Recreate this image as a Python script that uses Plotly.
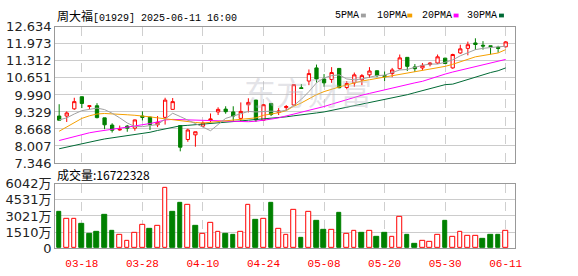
import plotly.graph_objects as go

W, H = 578, 276

dates = ["03-13", "03-14", "03-17", "03-18", "03-19", "03-20", "03-21", "03-24", "03-25", "03-26",
         "03-27", "03-28", "03-31", "04-01", "04-02", "04-03", "04-07", "04-08", "04-09", "04-10",
         "04-11", "04-14", "04-15", "04-16", "04-17", "04-22", "04-23", "04-24", "04-25", "04-28",
         "04-29", "04-30", "05-02", "05-06", "05-07", "05-08", "05-09", "05-12", "05-13", "05-14",
         "05-15", "05-16", "05-19", "05-20", "05-21", "05-22", "05-23", "05-26", "05-27", "05-28",
         "05-29", "05-30", "06-02", "06-03", "06-04", "06-05", "06-06", "06-09", "06-10", "06-11"]

label_dates = ["03-18", "03-28", "04-10", "04-24", "05-08", "05-20", "05-30", "06-11"]

open_ = [9.17, 9.17, 9.45, 9.92, 9.54, 9.57, 9.10, 8.82, 8.63, 8.78,
         8.70, 9.17, 9.13, 8.83, 9.12, 9.43, 8.80, 8.26, 8.44, 8.78,
         9.00, 9.33, 9.44, 9.33, 9.08, 9.61, 9.79, 9.01, 9.66, 9.31,
         9.50, 9.60, 10.27, 10.53, 11.04, 10.61, 10.59, 11.02, 10.28, 10.46,
         10.58, 10.77, 10.93, 10.74, 10.82, 11.01, 11.45, 11.08, 11.04, 11.17,
         11.23, 11.42, 11.04, 11.62, 11.80, 12.01, 11.92, 11.90, 11.84, 11.86]
high = [9.63, 9.35, 9.88, 9.93, 9.58, 9.67, 9.10, 8.89, 8.80, 8.82,
        9.03, 9.35, 9.14, 9.17, 9.88, 9.87, 8.81, 8.68, 8.56, 8.96,
        9.27, 9.51, 9.55, 9.55, 9.70, 9.86, 9.80, 9.63, 9.66, 9.48,
        9.60, 10.40, 10.41, 10.98, 11.17, 10.80, 11.07, 11.02, 10.53, 10.86,
        10.80, 11.07, 10.94, 10.90, 11.04, 11.56, 11.45, 11.19, 11.23, 11.26,
        11.56, 11.43, 11.59, 11.94, 12.06, 12.19, 12.08, 11.90, 11.90, 12.08]
low = [8.99, 8.94, 9.41, 9.48, 9.43, 9.08, 8.66, 8.53, 8.60, 8.56,
       8.60, 9.00, 8.63, 8.74, 8.84, 9.42, 7.80, 8.17, 7.98, 8.74,
       8.93, 9.21, 9.26, 8.96, 8.96, 9.31, 8.94, 9.00, 9.17, 9.21,
       9.39, 9.58, 10.23, 10.37, 10.47, 10.31, 10.46, 10.25, 10.21, 10.31,
       10.37, 10.65, 10.68, 10.53, 10.68, 10.98, 10.92, 10.88, 10.95, 11.10,
       11.19, 11.21, 11.01, 11.59, 11.53, 11.74, 11.75, 11.56, 11.63, 11.84]
close = [9.01, 9.29, 9.73, 9.66, 9.57, 9.11, 8.83, 8.62, 8.66, 8.70,
         9.02, 9.12, 8.84, 8.93, 9.79, 9.73, 7.96, 8.63, 8.56, 8.90,
         9.06, 9.43, 9.34, 9.17, 9.35, 9.70, 9.02, 9.61, 9.23, 9.37,
         9.54, 10.39, 10.24, 10.82, 10.61, 10.46, 10.86, 10.27, 10.43, 10.77,
         10.74, 10.92, 10.74, 10.70, 10.96, 11.43, 11.10, 11.01, 11.14, 11.23,
         11.47, 11.21, 11.56, 11.78, 11.94, 11.95, 11.89, 11.87, 11.80, 12.05]

ma5 = [9.02, 9.10, 9.25, 9.38, 9.43, 9.48, 9.42, 9.28, 9.10, 8.90,
       8.76, 8.76, 8.80, 8.84, 9.05, 9.28, 9.15, 9.02, 8.90, 8.74,
       8.60, 8.84, 9.08, 9.17, 9.27, 9.35, 9.33, 9.35, 9.36, 9.34,
       9.40, 9.58, 9.82, 10.12, 10.46, 10.65, 10.74, 10.77, 10.61, 10.58,
       10.61, 10.68, 10.74, 10.76, 10.86, 10.96, 10.98, 11.07, 11.14, 11.19,
       11.19, 11.26, 11.35, 11.51, 11.63, 11.75, 11.80, 11.84, 11.86, 11.88]
ma10 = [8.58, 8.75, 8.92, 9.08, 9.18, 9.25, 9.27, 9.26, 9.24, 9.22,
        9.20, 9.18, 9.14, 9.10, 9.06, 9.02, 8.98, 8.95, 8.92, 8.90,
        8.93, 8.96, 8.99, 9.02, 9.04, 9.06, 9.10, 9.20, 9.25, 9.30,
        9.38, 9.55, 9.68, 9.85, 10.00, 10.12, 10.22, 10.30, 10.38, 10.46,
        10.53, 10.58, 10.63, 10.68, 10.74, 10.80, 10.85, 10.90, 10.95, 11.00,
        11.05, 11.10, 11.18, 11.28, 11.38, 11.47, 11.52, 11.57, 11.62, 11.75]
ma20 = [8.22, 8.30, 8.38, 8.45, 8.52, 8.57, 8.62, 8.66, 8.70, 8.74,
        8.78, 8.83, 8.88, 8.94, 9.02, 9.04, 9.03, 9.02, 9.00, 8.98,
        8.97, 8.96, 8.95, 8.95, 8.95, 8.95, 8.97, 9.00, 9.05, 9.10,
        9.17, 9.25, 9.32, 9.40, 9.47, 9.54, 9.63, 9.72, 9.80, 9.89,
        9.98, 10.05, 10.12, 10.20, 10.28, 10.35, 10.40, 10.46, 10.52, 10.62,
        10.72, 10.80, 10.88, 10.95, 11.01, 11.07, 11.14, 11.22, 11.30, 11.37]
ma30 = [7.90, 7.97, 8.03, 8.09, 8.15, 8.22, 8.28, 8.32, 8.36, 8.40,
        8.44, 8.48, 8.54, 8.61, 8.68, 8.74, 8.79, 8.81, 8.83, 8.86,
        8.88, 8.90, 8.93, 8.95, 8.98, 9.01, 9.03, 9.06, 9.08, 9.11,
        9.14, 9.18, 9.21, 9.25, 9.29, 9.33, 9.39, 9.45, 9.51, 9.57,
        9.63, 9.69, 9.75, 9.80, 9.86, 9.92, 10.00, 10.08, 10.16, 10.24,
        10.34, 10.39, 10.41, 10.50, 10.60, 10.70, 10.78, 10.86, 10.93, 11.04]

# volume in 万 shares; 1 = up (red hollow), 0 = down (green filled)
volume = [3448, 2712, 2800, 2299, 1326, 1503, 3095, 1592, 1208, 678,
          1474, 2181, 1768, 2093, 5629, 3448, 4244, 4038, 2050, 1326,
          2358, 1562, 1326, 1238, 1562, 4038, 2653, 2712, 4244, 1827,
          1238, 3596, 973, 3389, 2564, 1680, 1709, 3331, 1326, 1650,
          1415, 1650, 1061, 1415, 1061, 2918, 1238, 442, 678, 589,
          1238, 2564, 1061, 1503, 1149, 1149, 884, 1238, 1238, 1672]
vol_up = [0, 1, 1, 0, 0, 0, 0, 0, 1, 1,
          1, 1, 0, 1, 1, 0, 0, 1, 0, 1,
          1, 1, 0, 0, 1, 1, 0, 1, 0, 1,
          1, 1, 0, 1, 0, 0, 1, 0, 1, 1,
          0, 1, 0, 0, 1, 1, 0, 0, 1, 1,
          1, 0, 1, 1, 1, 1, 0, 0, 0, 1]

price_ticks = [7.346, 8.007, 8.668, 9.329, 9.990, 10.651, 11.312, 11.973, 12.634]
price_tick_text = ["7.346", "8.007", "8.668", "9.329", "9.990", "10.651", "11.312", "11.973", "12.634"]
vol_ticks = [0, 1510, 3021, 4531, 6042]
vol_tick_text = ["0", "1510万", "3021万", "4531万", "6042万"]

title_name = "周大福"
title_rest = "[01929] 2025-06-11 16:00"
vol_label = "成交量:16722328"
ma_names = ["5PMA", "10PMA", "20PMA", "30PMA"]

RED = "#ff0000"
GREEN = "#008000"
ma_colors = ["#a0a0a0", "#f5a000", "#ff00ff", "#006a35"]

def px(x):
    return x / W

def py(y):
    return 1 - y / H

fig = go.Figure()

for series, col in zip([ma30, ma20, ma10, ma5], ma_colors[::-1]):
    fig.add_trace(go.Scatter(x=dates, y=series, mode="lines",
                             line=dict(color=col, width=1, shape="linear"),
                             xaxis="x", yaxis="y", hoverinfo="skip"))

fig.add_trace(go.Candlestick(
    x=dates, open=open_, high=high, low=low, close=close,
    increasing=dict(line=dict(color=RED, width=1), fillcolor="#ffffff"),
    decreasing=dict(line=dict(color=GREEN, width=1), fillcolor=GREEN),
    whiskerwidth=0, xaxis="x", yaxis="y"))

fig.add_trace(go.Bar(
    x=dates, y=volume, width=0.62,
    marker=dict(color=["#ffffff" if u else GREEN for u in vol_up],
                line=dict(color=[RED if u else GREEN for u in vol_up], width=1)),
    xaxis="x2", yaxis="y2"))

xdom = [px(56), px(522)]
common_x = dict(type="category", range=[-0.52, 60.2], tickmode="array", tickvals=label_dates,
                showgrid=True, gridcolor="#cfcfcf", griddash="dash", gridwidth=1,
                showline=True, linecolor="#999999", linewidth=1, mirror=True,
                zeroline=False, ticks="", fixedrange=True)

fig.update_layout(
    width=W, height=H, margin=dict(l=0, r=0, t=0, b=0),
    paper_bgcolor="#ffffff", plot_bgcolor="#ffffff",
    showlegend=False, boxgap=0.38, bargap=0,
    xaxis=dict(domain=xdom, anchor="y", showticklabels=False,
               rangeslider=dict(visible=False), **common_x),
    xaxis2=dict(domain=xdom, anchor="y2", showticklabels=True, ticklabelstandoff=5,
                tickfont=dict(family="Liberation Mono", size=11, color=RED), **common_x),
    yaxis=dict(domain=[py(165), py(21)], anchor="x", range=[7.3455, 12.6345],
               tickmode="array", tickvals=price_ticks, ticktext=price_tick_text,
               showgrid=True, gridcolor="#cccccc", gridwidth=1, zeroline=False,
               showline=True, linecolor="#999999", mirror=True, ticks="",
               tickfont=dict(family="DejaVu Sans", size=13, color="#222222"), fixedrange=True),
    yaxis2=dict(domain=[py(255), py(187)], anchor="x2", range=[0, 6043],
                tickmode="array", tickvals=vol_ticks, ticktext=vol_tick_text,
                showgrid=True, gridcolor="#cccccc", gridwidth=1, zeroline=False,
                showline=True, linecolor="#999999", mirror=True, ticks="",
                tickfont=dict(family="DejaVu Sans, Noto Sans CJK SC", size=13, color="#222222"),
                fixedrange=True),
)

annotations = []
annotations.append(dict(
    xref="paper", yref="paper", x=px(56), y=py(9), xanchor="left", yanchor="middle",
    text='<span style="font-family:Noto Sans CJK SC;font-size:12px">' + title_name + "</span>" + title_rest,
    showarrow=False, font=dict(family="Liberation Mono", size=10, color="#000000")))
annotations.append(dict(
    xref="paper", yref="paper", x=px(56), y=py(177), xanchor="left", yanchor="middle",
    text=vol_label, showarrow=False,
    font=dict(family="Noto Sans CJK SC, DejaVu Sans", size=12, color="#000000")))
annotations.append(dict(
    xref="paper", yref="paper", x=px(312), y=py(89), xanchor="center", yanchor="middle",
    text="东方财富", showarrow=False,
    font=dict(family="Noto Sans CJK SC", size=32, color="rgba(185,185,195,0.38)")))

legend_x = [338, 380, 426, 472]
square_x = [366, 413, 460, 506]
shapes = []
for name, lx, sx, col in zip(ma_names, legend_x, square_x, ma_colors):
    annotations.append(dict(xref="paper", yref="paper", x=px(lx), y=py(9),
                            xanchor="left", yanchor="middle", text=name, showarrow=False,
                            font=dict(family="Liberation Mono", size=10, color="#000000")))
    shapes.append(dict(type="rect", xref="paper", yref="paper",
                       x0=px(sx), x1=px(sx + 5), y0=py(11), y1=py(7),
                       fillcolor=col, line=dict(width=0)))

fig.update_layout(annotations=annotations, shapes=shapes)

fig.write_html("out.html")
